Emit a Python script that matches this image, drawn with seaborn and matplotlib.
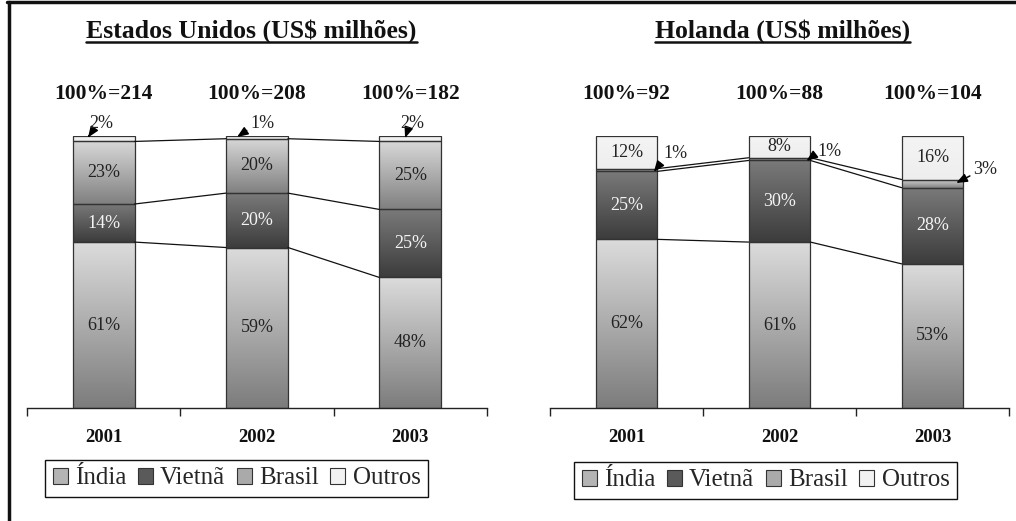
import numpy as np
import pandas as pd
import matplotlib
matplotlib.use("Agg")
import matplotlib.pyplot as plt
import seaborn as sns
from matplotlib.colors import LinearSegmentedColormap
from matplotlib.lines import Line2D
from matplotlib.patches import Patch

# ---------------- data ----------------
years = ["2001", "2002", "2003"]
series = ["Índia", "Vietnã", "Brasil", "Outros"]

us_title = "Estados Unidos (US$ milhões)"
us_totals = [214, 208, 182]
us_india = [61, 59, 48]
us_vietna = [14, 20, 25]
us_brasil = [23, 20, 25]
us_outros = [2, 1, 2]

nl_title = "Holanda (US$ milhões)"
nl_totals = [92, 88, 104]
nl_india = [62, 61, 53]
nl_vietna = [25, 30, 28]
nl_brasil = [1, 1, 3]
nl_outros = [12, 8, 16]

# ---------------- style ----------------
sns.set_theme(style="white")
plt.rcParams["font.family"] = ["Liberation Serif", "DejaVu Serif"]

grad = {
    "Índia": ("#7c7c7c", "#dcdcdc"),
    "Vietnã": ("#3c3c3c", "#7a7a7a"),
    "Brasil": ("#808080", "#d8d8d8"),
    "Outros": ("#eeeeee", "#f4f4f4"),
}
flat = {"Índia": "#b4b4b4", "Vietnã": "#5a5a5a", "Brasil": "#aaaaaa", "Outros": "#f2f2f2"}
label_color = {"Índia": "#222222", "Vietnã": "#f4f4f4", "Brasil": "#222222", "Outros": "#222222"}

W, H = 1016, 521
fig = plt.figure(figsize=(W / 100, H / 100), dpi=100)


def px_axes(x0, x1, ytop, ybot):
    return fig.add_axes([x0 / W, 1 - ybot / H, (x1 - x0) / W, (ybot - ytop) / H])


def draw_panel(ax, title, title_x, totals, layers, small, legend_anchor):
    bottom = np.zeros(len(years))
    bounds = []
    for name, vals in zip(series, layers):
        vals = np.asarray(vals, dtype=float)
        sns.barplot(x=years, y=vals, bottom=bottom, ax=ax, width=0.404,
                    color=flat[name], edgecolor="#333333", linewidth=0.9,
                    errorbar=None, zorder=3)
        cont = ax.containers[-1]
        cmap = LinearSegmentedColormap.from_list(name, list(grad[name]))
        g = np.linspace(0, 1, 256).reshape(-1, 1)
        for i, p in enumerate(cont.patches):
            x, y, w, h = p.get_x(), p.get_y(), p.get_width(), p.get_height()
            ax.imshow(g, extent=[x, x + w, y, y + h], origin="lower", cmap=cmap,
                      aspect="auto", interpolation="bicubic", zorder=2)
            p.set_facecolor("none")
            if vals[i] >= 5:
                ax.text(i, y + h / 2, f"{int(vals[i])}%", ha="center", va="center",
                        fontsize=13, color=label_color[name], zorder=5)
        bottom = bottom + vals
        bounds.append(bottom.copy())
    # connecting lines between bars
    hw = 0.404 / 2
    for b in bounds[:-1]:
        for i in range(len(years) - 1):
            ax.plot([i + hw, i + 1 - hw], [b[i], b[i + 1]], color="#111111",
                    lw=0.9, zorder=4)
    # small-value annotations
    for (i, v, tx, ty, ax_x, ax_y, rel) in small:
        ax.annotate(f"{v}%", xy=(ax_x, ax_y), xytext=(tx, ty), ha="center",
                    va="center", fontsize=13, color="#222222",
                    arrowprops=dict(arrowstyle="-|>,head_length=0.5,head_width=0.2",
                                    color="black", lw=1.1, shrinkA=0, shrinkB=0,
                                    relpos=rel),
                    zorder=6, annotation_clip=False)
    # totals
    for i, t in enumerate(totals):
        ax.text(i, 115.5, f"100%={t}", ha="center", va="center", fontsize=15.5,
                fontweight="bold", color="#111111", clip_on=False)
    # axes cosmetics
    ax.set_xlim(-0.5, 2.5)
    ax.set_ylim(0, 100)
    ax.set_yticks([])
    ax.set_xlabel("")
    ax.set_ylabel("")
    for s in ["left", "right", "top"]:
        ax.spines[s].set_visible(False)
    ax.spines["bottom"].set_color("#222222")
    ax.spines["bottom"].set_linewidth(1.0)
    ax.set_xticks(range(len(years)))
    ax.set_xticklabels(years, fontsize=13.5, fontweight="bold", color="#111111")
    ax.set_xticks([-0.5, 0.5, 1.5, 2.5], minor=True)
    ax.tick_params(axis="x", which="major", length=0, pad=15)
    ax.tick_params(axis="x", which="minor", length=6, width=1.0, color="#222222",
                   direction="out", bottom=True)
    ax.set_facecolor("none")
    # title
    t = fig.text(title_x / W, 1 - 31 / H, title, ha="center", va="center",
                 fontsize=18.5, fontweight="bold", color="#111111")
    # legend
    handles = [Patch(facecolor=flat[n], edgecolor="#333333", linewidth=0.8, label=n)
               for n in series]
    leg = fig.legend(handles=handles, loc="upper left",
                     bbox_to_anchor=(legend_anchor[0] / W, 1 - legend_anchor[1] / H),
                     ncol=4, fontsize=18, frameon=True, fancybox=False,
                     edgecolor="#111111", framealpha=1, borderpad=0.3,
                     handlelength=0.6, handleheight=0.6, handletextpad=0.3,
                     columnspacing=0.45, borderaxespad=0)
    leg.get_frame().set_linewidth(1.0)
    return t


ax1 = px_axes(27, 487, 136, 408)
ax2 = px_axes(550, 1009, 136, 408)


def dx(px, x0):
    return (px - x0) / 153.3 - 0.5


def dy(py):
    return (408 - py) / 2.72


us_small = [
    (0, us_outros[0], dx(101, 27), dy(124), dx(88, 27), dy(137.5), (0.15, 0.1)),
    (1, us_outros[1], dx(262, 27), dy(124), dx(237, 27), dy(137), (0.0, 0.25)),
    (2, us_outros[2], dx(412, 27), dy(124), dx(405, 27), dy(138), (0.3, 0.05)),
]
nl_small = [
    (0, nl_brasil[0], dx(676, 550), dy(154), dx(654, 550), dy(172), (0.0, 0.2)),
    (1, nl_brasil[1], dx(830, 550), dy(151), dx(807, 550), dy(161), (0.0, 0.4)),
    (2, nl_brasil[2], dx(986, 550), dy(170), dx(957, 550), dy(183), (0.0, 0.25)),
]

t1 = draw_panel(ax1, us_title, 251.5, us_totals,
                [us_india, us_vietna, us_brasil, us_outros], us_small, (45, 460))
t2 = draw_panel(ax2, nl_title, 782.5, nl_totals,
                [nl_india, nl_vietna, nl_brasil, nl_outros], nl_small, (574, 462))

# underline titles
fig.canvas.draw()
r = fig.canvas.get_renderer()
for t in (t1, t2):
    bb = t.get_window_extent(r)
    yline = 1 - 42 / H
    fig.add_artist(Line2D([bb.x0 / W, bb.x1 / W], [yline, yline], color="#111111",
                          lw=1.8, transform=fig.transFigure))

# outer frame (top and left)
fig.add_artist(Line2D([7 / W, 1.0], [1 - 2 / H, 1 - 2 / H], color="#111111", lw=2.5,
                      transform=fig.transFigure))
fig.add_artist(Line2D([9 / W, 9 / W], [0, 1 - 2 / H], color="#111111", lw=2.5,
                      transform=fig.transFigure))

fig.savefig("out.png", dpi=100)
